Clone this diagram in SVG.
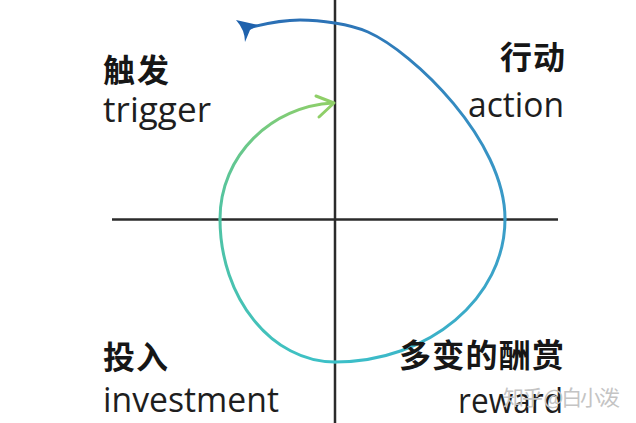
<svg xmlns="http://www.w3.org/2000/svg" width="636" height="423" viewBox="0 0 636 423">
<defs>
<style>
.axis{stroke:#2b2b2b;stroke-width:2.5;fill:none}
.loop{fill:none;stroke-width:3;stroke-linecap:round}
.zh{font-family:"Noto Sans CJK SC","Noto Sans",sans-serif;font-weight:bold;font-size:32px;fill:#161616}
.en{font-family:"Open Sans","Noto Sans",sans-serif;font-size:34px;fill:#1e1e1e}
.wm{font-family:"Noto Sans CJK SC","Noto Sans",sans-serif;font-size:21px;fill:#c4c4c4}
</style>
<linearGradient id="g1" gradientUnits="userSpaceOnUse" x1="333" y1="103" x2="220" y2="219"><stop offset="0" stop-color="#8fcf68"/><stop offset="1" stop-color="#4fc3a4"/></linearGradient>
<linearGradient id="g2" gradientUnits="userSpaceOnUse" x1="220" y1="219" x2="335" y2="362"><stop offset="0" stop-color="#4fc3a4"/><stop offset="1" stop-color="#3cc0c8"/></linearGradient>
<linearGradient id="g3" gradientUnits="userSpaceOnUse" x1="335" y1="362" x2="505" y2="219"><stop offset="0" stop-color="#3cc0c8"/><stop offset="1" stop-color="#3a9cc8"/></linearGradient>
<linearGradient id="g4" gradientUnits="userSpaceOnUse" x1="505" y1="219" x2="300" y2="20"><stop offset="0" stop-color="#3a9cc8"/><stop offset="1" stop-color="#2b70b5"/></linearGradient>
</defs>
<rect width="636" height="423" fill="#ffffff"/>
<g id="connectors">
<line class="axis" x1="335" y1="0" x2="335" y2="423"/>
<line class="axis" x1="112" y1="219.5" x2="558" y2="219.5"/>
<path class="loop" stroke="url(#g1)" d="M333,103 C272,106 220,155 220,219"/>
<path class="loop" stroke="url(#g2)" d="M220,219 C220,298 272,362 335,362"/>
<path class="loop" stroke="url(#g3)" d="M335,362 C429,362 505,298 505,219"/>
<path class="loop" stroke="url(#g4)" d="M505,219 C505,140 413,52 368,32 C350,24 320,20 300,20 C285,20 268,23 252,27"/>
<polyline fill="none" stroke="#8fcf68" stroke-width="3" stroke-linecap="round" stroke-linejoin="round" points="316,96 334,103 319,117"/>
<path fill="#1f62ad" d="M236,20 L258,25 L250,30 L245,42 Q245,30 236,20 Z"/>
</g>
<g id="trigger">
<text class="zh" x="103" y="82" textLength="66">触发</text>
<text class="en" x="103" y="122" textLength="108" lengthAdjust="spacingAndGlyphs">trigger</text>
</g>
<g id="action">
<text class="zh" x="500" y="69" textLength="65">行动</text>
<text class="en" x="468" y="117" textLength="96" lengthAdjust="spacingAndGlyphs">action</text>
</g>
<g id="investment">
<text class="zh" x="103" y="369" textLength="65">投入</text>
<text class="en" x="103" y="412" textLength="176" lengthAdjust="spacingAndGlyphs">investment</text>
</g>
<g id="reward">
<text class="zh" x="399" y="367" textLength="165">多变的酬赏</text>
<text class="en" x="458" y="413" textLength="105" lengthAdjust="spacingAndGlyphs">reward</text>
</g>
<text class="wm" x="503" y="405" textLength="117">知乎 @白小泼</text>
</svg>
